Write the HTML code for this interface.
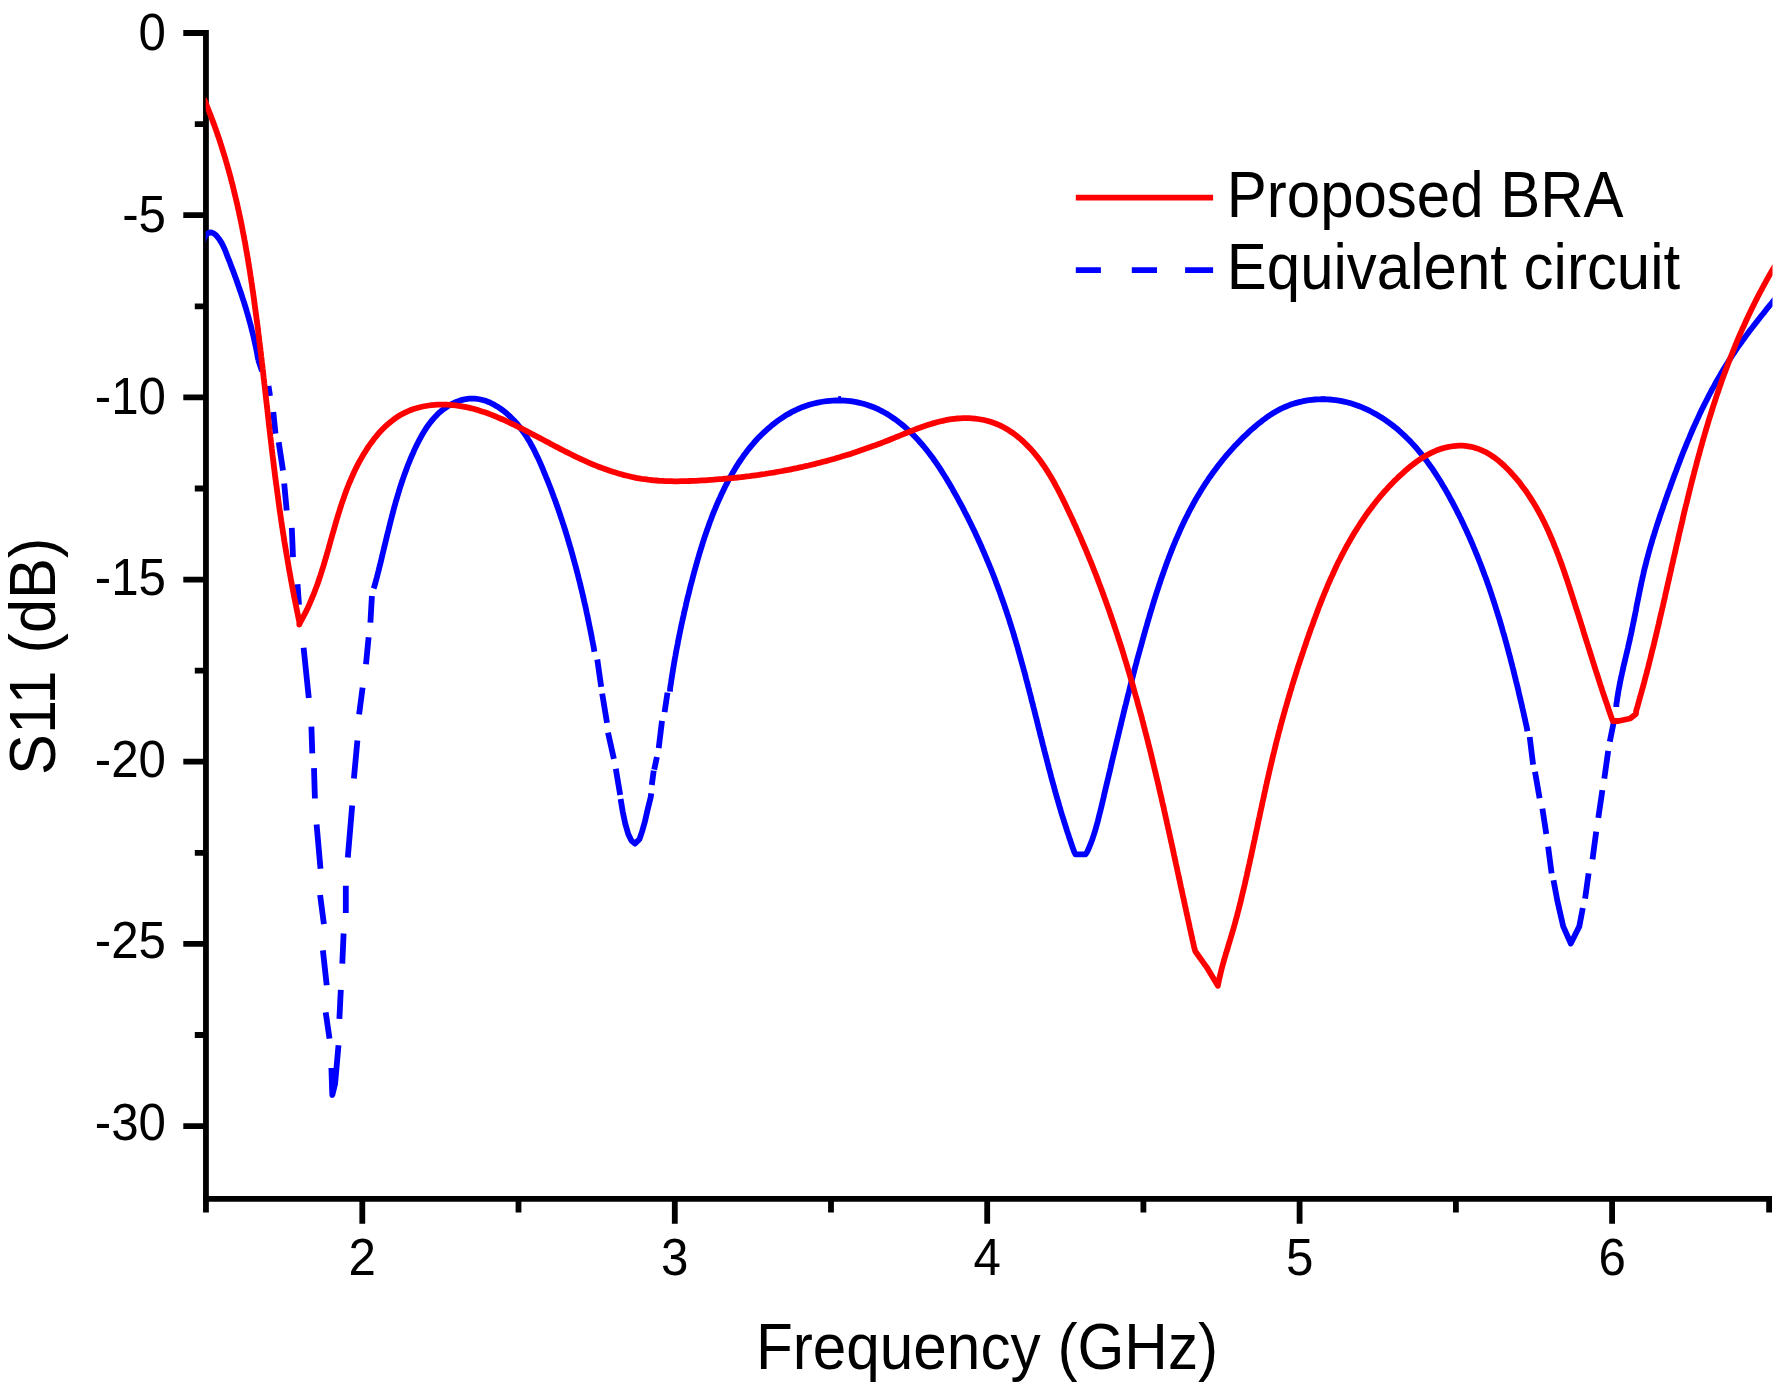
<!DOCTYPE html>
<html><head><meta charset="utf-8"><title>S11 plot</title>
<style>
html,body{margin:0;padding:0;background:#fff;}
svg{display:block;}
text{font-family:"Liberation Sans",Arial,sans-serif;fill:#000;}
</style></head>
<body>
<svg width="1784" height="1385" viewBox="0 0 1784 1385">
<rect width="1784" height="1385" fill="#fff"/>
<path d="M205.95,30.1 V1212.6" stroke="#000" stroke-width="5.8" fill="none"/>
<path d="M203.05,1198.8 H1772" stroke="#000" stroke-width="5.8" fill="none"/>
<path d="M183.3,33.0 H205.95 M183.3,215.2 H205.95 M183.3,397.4 H205.95 M183.3,579.6 H205.95 M183.3,761.7 H205.95 M183.3,943.9 H205.95 M183.3,1126.1 H205.95 M194.8,124.1 H205.95 M194.8,306.3 H205.95 M194.8,488.5 H205.95 M194.8,670.6 H205.95 M194.8,852.8 H205.95 M194.8,1035.0 H205.95 M362.3,1198.8 V1223.7 M674.8,1198.8 V1223.7 M987.2,1198.8 V1223.7 M1299.6,1198.8 V1223.7 M1612.1,1198.8 V1223.7 M518.5,1198.8 V1212.6 M831.0,1198.8 V1212.6 M1143.4,1198.8 V1212.6 M1455.9,1198.8 V1212.6 M1769.1,1198.8 V1212.6" stroke="#000" stroke-width="5.8" fill="none"/>
<clipPath id="pc"><rect x="205.6" y="20" width="1566.9" height="1176"/></clipPath>
<g fill="none" stroke-linejoin="round" stroke-linecap="butt" clip-path="url(#pc)">
<path d="M203.0,242.0 L203.8,238.9 L205.3,235.9 L207.4,233.6 L209.7,232.5 L212.2,232.7 L214.6,234.0 L216.9,236.2 L218.9,238.7 L220.6,241.3 L222.2,244.0 L223.5,246.7 L224.8,249.5 L225.9,252.3 L227.0,255.2 L228.1,258.0 L229.3,260.9 L230.4,263.7 L231.4,266.6 L232.5,269.4 L233.6,272.3 L234.6,275.1 L235.7,278.0 L236.7,280.8 L237.7,283.7 L238.7,286.6 L239.7,289.5 L240.7,292.3 L241.7,295.2 L242.6,298.1 L243.6,301.0 L244.5,303.9 L245.4,306.8 L246.3,309.7 L247.1,312.6 L248.0,315.5 L248.8,318.5 L249.6,321.4 L250.4,324.3 L251.2,327.3 L251.9,330.2 L252.7,333.2 L253.4,336.1 L254.1,339.1 L254.7,342.1 L255.4,345.0 L256.0,348.0 L256.6,351.0 L257.2,354.0 L257.7,357.0 L258.3,360.0 M373.6,588.5 L374.6,585.8 L375.4,582.8 L376.2,579.8 L377.0,576.9 L377.7,573.9 L378.5,571.0 L379.2,568.0 L380.0,565.1 L380.7,562.1 L381.4,559.2 L382.1,556.2 L382.8,553.3 L383.5,550.4 L384.2,547.5 L384.9,544.5 L385.6,541.6 L386.3,538.7 L387.0,535.8 L387.7,532.9 L388.5,529.9 L389.2,527.0 L389.9,524.1 L390.6,521.2 L391.4,518.3 L392.1,515.4 L392.9,512.6 L393.6,509.7 L394.4,506.8 L395.2,503.9 L396.0,501.0 L396.9,498.2 L397.7,495.3 L398.6,492.4 L399.4,489.6 L400.3,486.7 L401.3,483.8 L402.2,481.0 L403.2,478.1 L404.2,475.3 L405.2,472.5 L406.3,469.6 L407.3,466.8 L408.4,464.0 L409.6,461.1 L410.7,458.3 L411.9,455.5 L413.2,452.7 L414.4,449.9 L415.7,447.1 L417.1,444.3 L418.5,441.5 L419.9,438.8 L421.4,436.1 L422.9,433.4 L424.5,430.8 L426.2,428.2 L427.9,425.7 L429.7,423.3 L431.6,420.9 L433.5,418.6 L435.5,416.4 L437.6,414.2 L439.8,412.2 L442.1,410.3 L444.4,408.5 L446.9,406.8 L449.4,405.2 L452.1,403.8 L454.8,402.5 L457.6,401.4 L460.4,400.4 L463.2,399.6 L466.1,399.1 L469.1,398.7 L472.0,398.6 L474.9,398.6 L477.8,399.0 L480.6,399.5 L483.5,400.2 L486.3,401.1 L489.1,402.2 L491.8,403.5 L494.5,404.9 L497.1,406.4 L499.7,408.1 L502.2,409.9 L504.7,411.8 L507.1,413.8 L509.4,415.9 L511.6,418.0 L513.8,420.2 L515.8,422.5 L517.8,424.7 L519.7,427.1 L521.5,429.5 L523.3,431.9 L525.0,434.4 L526.7,436.9 L528.2,439.5 L529.8,442.1 L531.2,444.7 L532.7,447.3 L534.1,450.0 L535.4,452.7 L536.7,455.4 L538.0,458.1 L539.3,460.9 L540.5,463.6 L541.7,466.4 L542.9,469.2 L544.0,472.0 L545.2,474.8 L546.3,477.6 L547.5,480.4 L548.6,483.2 L549.7,486.0 L550.8,488.8 L551.8,491.6 L552.9,494.5 L553.9,497.3 L555.0,500.1 L556.0,502.9 L557.0,505.8 L558.0,508.6 L559.0,511.5 L560.0,514.3 L560.9,517.2 L561.9,520.0 L562.8,522.9 L563.8,525.8 L564.7,528.7 L565.6,531.5 L566.5,534.4 L567.4,537.3 L568.2,540.2 L569.1,543.1 L569.9,545.9 L570.8,548.8 L571.6,551.7 L572.4,554.6 L573.2,557.5 L574.0,560.4 L574.8,563.4 L575.6,566.3 L576.4,569.2 L577.1,572.1 L577.9,575.0 L578.6,577.9 L579.4,580.9 L580.1,583.8 L580.8,586.7 L581.5,589.7 L582.2,592.6 L582.9,595.5 L583.6,598.5 L584.2,601.4 L584.9,604.4 L585.6,607.3 L586.2,610.3 L586.8,613.2 L587.5,616.2 L588.1,619.1 L588.7,622.1 L589.3,625.0 L589.9,628.0 L590.5,630.9 L591.1,633.9 L591.7,636.9 L592.2,639.8 L592.8,642.8 L593.4,645.8 L593.9,648.7 L594.4,651.7 M620.6,799.0 L622.7,811.6 L625.3,823.9 L628.3,834.3 L631.5,840.8 L635.1,843.6 L639.6,838.9 L642.2,831.1 L644.8,822.0 L647.8,809.0 L650.7,797.3 L651.2,793.4 M670.0,691.7 L670.1,688.7 L670.5,685.7 L671.0,682.7 L671.4,679.8 L671.9,676.8 L672.4,673.8 L672.8,670.9 L673.3,667.9 L673.8,665.0 L674.3,662.0 L674.8,659.0 L675.4,656.1 L675.9,653.1 L676.4,650.2 L677.0,647.2 L677.6,644.3 L678.1,641.3 L678.7,638.4 L679.3,635.4 L679.9,632.5 L680.5,629.5 L681.1,626.6 L681.7,623.7 L682.4,620.7 L683.0,617.8 L683.7,614.8 L684.3,611.9 L685.0,609.0 L685.7,606.1 L686.3,603.1 L687.0,600.2 L687.7,597.3 L688.5,594.4 L689.2,591.4 L689.9,588.5 L690.6,585.6 L691.4,582.7 L692.2,579.8 L692.9,576.9 L693.7,574.0 L694.5,571.1 L695.3,568.2 L696.1,565.3 L696.9,562.4 L697.7,559.5 L698.6,556.6 L699.4,553.7 L700.3,550.8 L701.2,547.9 L702.1,545.1 L703.0,542.2 L703.9,539.4 L704.8,536.5 L705.8,533.7 L706.8,530.8 L707.8,528.0 L708.8,525.2 L709.8,522.3 L710.9,519.5 L711.9,516.7 L713.0,513.9 L714.1,511.1 L715.3,508.4 L716.4,505.6 L717.6,502.8 L718.8,500.1 L720.1,497.4 L721.3,494.6 L722.6,491.9 L723.9,489.2 L725.2,486.5 L726.6,483.8 L728.0,481.2 L729.4,478.5 L730.9,475.9 L732.4,473.3 L733.9,470.7 L735.4,468.1 L737.0,465.6 L738.6,463.0 L740.3,460.5 L742.0,458.1 L743.7,455.6 L745.5,453.2 L747.3,450.8 L749.2,448.4 L751.1,446.1 L753.0,443.8 L755.0,441.5 L757.0,439.3 L759.1,437.1 L761.2,435.0 L763.4,432.9 L765.6,430.8 L767.8,428.8 L770.1,426.9 L772.4,424.9 L774.8,423.1 L777.2,421.2 L779.6,419.5 L782.1,417.8 L784.7,416.1 L787.2,414.6 L789.9,413.1 L792.5,411.6 L795.2,410.3 L797.9,409.0 L800.7,407.8 L803.5,406.8 L806.4,405.8 L809.2,404.8 L812.1,404.0 L815.0,403.3 L817.9,402.6 L820.9,402.0 L823.8,401.5 L826.8,401.1 L829.8,400.8 L832.8,400.6 L835.8,400.5 L838.7,400.5 L841.7,400.5 L844.7,400.7 L847.7,400.9 L850.6,401.2 L853.6,401.7 L856.5,402.2 L859.5,402.8 L862.3,403.5 L865.2,404.3 L868.1,405.2 L870.9,406.2 L873.7,407.3 L876.4,408.4 L879.1,409.7 L881.8,411.1 L884.5,412.5 L887.1,414.0 L889.7,415.6 L892.2,417.3 L894.7,419.0 L897.1,420.8 L899.6,422.7 L901.9,424.6 L904.3,426.6 L906.6,428.6 L908.8,430.6 L911.0,432.7 L913.2,434.9 L915.3,437.0 L917.4,439.2 L919.4,441.5 L921.4,443.7 L923.4,446.0 L925.3,448.3 L927.2,450.7 L929.0,453.0 L930.8,455.4 L932.6,457.8 L934.3,460.2 L936.0,462.7 L937.7,465.2 L939.4,467.6 L941.0,470.1 L942.6,472.7 L944.2,475.2 L945.8,477.7 L947.3,480.3 L948.9,482.9 L950.4,485.5 L951.9,488.0 L953.3,490.6 L954.8,493.3 L956.3,495.9 L957.7,498.5 L959.1,501.1 L960.6,503.8 L962.0,506.4 L963.4,509.1 L964.7,511.8 L966.1,514.4 L967.5,517.1 L968.8,519.8 L970.2,522.5 L971.5,525.2 L972.8,527.9 L974.1,530.6 L975.4,533.3 L976.6,536.1 L977.9,538.8 L979.1,541.5 L980.4,544.3 L981.6,547.0 L982.8,549.8 L984.0,552.5 L985.2,555.3 L986.4,558.1 L987.5,560.9 L988.7,563.6 L989.8,566.4 L991.0,569.2 L992.1,572.0 L993.2,574.8 L994.3,577.6 L995.4,580.4 L996.4,583.3 L997.5,586.1 L998.5,588.9 L999.6,591.7 L1000.6,594.6 L1001.6,597.4 L1002.6,600.2 L1003.6,603.1 L1004.6,605.9 L1005.5,608.8 L1006.5,611.6 L1007.4,614.5 L1008.4,617.3 L1009.3,620.2 L1010.2,623.1 L1011.1,625.9 L1012.0,628.8 L1012.9,631.7 L1013.8,634.6 L1014.6,637.4 L1015.5,640.3 L1016.3,643.2 L1017.2,646.1 L1018.0,649.0 L1018.8,651.9 L1019.6,654.8 L1020.4,657.6 L1021.2,660.5 L1022.0,663.4 L1022.8,666.3 L1023.6,669.2 L1024.4,672.1 L1025.2,675.0 L1025.9,677.9 L1026.7,680.9 L1027.5,683.8 L1028.2,686.7 L1029.0,689.6 L1029.7,692.5 L1030.5,695.4 L1031.2,698.3 L1031.9,701.2 L1032.7,704.1 L1033.4,707.0 L1034.2,710.0 L1034.9,712.9 L1035.6,715.8 L1036.4,718.7 L1037.1,721.6 L1037.8,724.5 L1038.5,727.4 L1039.3,730.4 L1040.0,733.3 L1040.7,736.2 L1041.5,739.1 L1042.2,742.0 L1042.9,744.9 L1043.7,747.8 L1044.4,750.7 L1045.2,753.7 L1045.9,756.6 L1046.7,759.5 L1047.4,762.4 L1048.2,765.3 L1048.9,768.2 L1049.7,771.1 L1050.5,774.0 L1051.2,776.9 L1052.0,779.8 L1052.8,782.7 L1053.6,785.6 L1054.4,788.5 L1055.2,791.4 L1056.0,794.3 L1056.8,797.2 L1057.7,800.1 L1058.5,802.9 L1059.3,805.8 L1060.2,808.7 L1061.0,811.6 L1061.9,814.5 L1062.8,817.3 L1063.7,820.2 L1064.6,823.1 L1065.5,825.9 L1066.4,828.8 L1067.3,831.7 L1068.3,834.5 L1069.2,837.4 L1070.2,840.2 L1071.1,843.1 L1072.1,845.9 L1073.1,848.8 L1074.1,851.6 L1075.5,854.3 L1085.5,854.3 L1087.2,851.8 L1088.5,849.1 L1089.6,846.3 L1090.7,843.6 L1091.8,840.8 L1092.8,838.0 L1093.7,835.1 L1094.6,832.3 L1095.5,829.4 L1096.3,826.5 L1097.1,823.7 L1097.9,820.8 L1098.6,817.9 L1099.3,814.9 L1100.1,812.0 L1100.8,809.1 L1101.5,806.2 L1102.2,803.3 L1102.9,800.3 L1103.6,797.4 L1104.2,794.5 L1104.9,791.6 L1105.6,788.6 L1106.3,785.7 L1107.0,782.8 L1107.7,779.9 L1108.4,776.9 L1109.1,774.0 L1109.8,771.1 L1110.5,768.1 L1111.1,765.2 L1111.8,762.3 L1112.5,759.4 L1113.2,756.4 L1113.9,753.5 L1114.6,750.6 L1115.3,747.7 L1116.0,744.7 L1116.7,741.8 L1117.4,738.9 L1118.1,736.0 L1118.8,733.1 L1119.5,730.1 L1120.2,727.2 L1120.9,724.3 L1121.6,721.4 L1122.3,718.5 L1123.0,715.6 L1123.7,712.6 L1124.4,709.7 L1125.1,706.8 L1125.9,703.9 L1126.6,701.0 L1127.3,698.1 L1128.0,695.2 L1128.8,692.3 L1129.5,689.4 L1130.2,686.5 L1131.0,683.6 L1131.7,680.6 L1132.5,677.7 L1133.2,674.8 L1134.0,671.9 L1134.7,669.0 L1135.5,666.1 L1136.3,663.2 L1137.0,660.3 L1137.8,657.4 L1138.6,654.5 L1139.4,651.7 L1140.2,648.8 L1141.0,645.9 L1141.8,643.0 L1142.6,640.1 L1143.4,637.2 L1144.2,634.3 L1145.0,631.4 L1145.8,628.5 L1146.7,625.6 L1147.5,622.7 L1148.3,619.9 L1149.2,617.0 L1150.0,614.1 L1150.9,611.2 L1151.8,608.3 L1152.6,605.5 L1153.5,602.6 L1154.4,599.7 L1155.3,596.8 L1156.2,594.0 L1157.1,591.1 L1158.1,588.2 L1159.0,585.4 L1160.0,582.5 L1160.9,579.7 L1161.9,576.8 L1162.9,574.0 L1163.9,571.1 L1164.9,568.3 L1165.9,565.5 L1166.9,562.6 L1168.0,559.8 L1169.0,557.0 L1170.1,554.2 L1171.2,551.4 L1172.3,548.6 L1173.4,545.8 L1174.6,543.1 L1175.7,540.3 L1176.9,537.6 L1178.1,534.8 L1179.3,532.1 L1180.5,529.3 L1181.8,526.6 L1183.0,523.9 L1184.3,521.2 L1185.6,518.5 L1187.0,515.9 L1188.3,513.2 L1189.7,510.5 L1191.1,507.9 L1192.5,505.3 L1193.9,502.6 L1195.4,500.0 L1196.9,497.4 L1198.4,494.9 L1200.0,492.3 L1201.5,489.7 L1203.1,487.2 L1204.7,484.7 L1206.4,482.2 L1208.0,479.7 L1209.7,477.2 L1211.5,474.7 L1213.2,472.3 L1215.0,469.9 L1216.8,467.5 L1218.6,465.1 L1220.5,462.7 L1222.4,460.3 L1224.3,458.0 L1226.2,455.7 L1228.2,453.4 L1230.2,451.1 L1232.2,448.9 L1234.2,446.6 L1236.3,444.4 L1238.4,442.2 L1240.5,440.1 L1242.6,437.9 L1244.8,435.8 L1247.0,433.8 L1249.2,431.7 L1251.4,429.7 L1253.7,427.7 L1256.0,425.7 L1258.3,423.8 L1260.7,421.9 L1263.1,420.0 L1265.5,418.3 L1267.9,416.5 L1270.4,414.9 L1272.9,413.3 L1275.5,411.8 L1278.1,410.3 L1280.7,408.9 L1283.4,407.7 L1286.1,406.5 L1288.8,405.4 L1291.6,404.3 L1294.4,403.4 L1297.3,402.6 L1300.1,401.9 L1303.1,401.2 L1306.0,400.7 L1308.9,400.2 L1311.9,399.8 L1314.9,399.5 L1317.9,399.4 L1320.9,399.3 L1323.9,399.3 L1326.9,399.3 L1329.9,399.5 L1332.9,399.8 L1335.9,400.2 L1338.9,400.6 L1341.9,401.2 L1344.9,401.8 L1347.8,402.5 L1350.7,403.3 L1353.6,404.2 L1356.5,405.2 L1359.4,406.3 L1362.2,407.4 L1365.0,408.6 L1367.8,409.9 L1370.5,411.3 L1373.2,412.7 L1375.8,414.1 L1378.5,415.7 L1381.0,417.2 L1383.6,418.9 L1386.1,420.6 L1388.5,422.3 L1390.9,424.1 L1393.3,425.9 L1395.6,427.7 L1397.9,429.6 L1400.1,431.6 L1402.3,433.6 L1404.5,435.6 L1406.6,437.7 L1408.7,439.8 L1410.8,441.9 L1412.8,444.1 L1414.8,446.3 L1416.8,448.5 L1418.7,450.8 L1420.6,453.1 L1422.5,455.4 L1424.3,457.8 L1426.1,460.1 L1427.9,462.6 L1429.6,465.0 L1431.4,467.4 L1433.1,469.9 L1434.7,472.4 L1436.4,474.9 L1438.0,477.5 L1439.6,480.0 L1441.2,482.6 L1442.7,485.2 L1444.3,487.8 L1445.8,490.4 L1447.3,493.0 L1448.8,495.7 L1450.2,498.3 L1451.7,501.0 L1453.1,503.6 L1454.5,506.3 L1455.9,509.0 L1457.2,511.6 L1458.6,514.3 L1459.9,517.0 L1461.3,519.7 L1462.6,522.4 L1463.8,525.1 L1465.1,527.9 L1466.4,530.6 L1467.6,533.3 L1468.9,536.1 L1470.1,538.8 L1471.3,541.6 L1472.5,544.3 L1473.6,547.1 L1474.8,549.8 L1475.9,552.6 L1477.1,555.4 L1478.2,558.2 L1479.3,561.0 L1480.4,563.8 L1481.5,566.6 L1482.5,569.4 L1483.6,572.2 L1484.6,575.0 L1485.7,577.8 L1486.7,580.6 L1487.7,583.4 L1488.7,586.3 L1489.7,589.1 L1490.6,591.9 L1491.6,594.8 L1492.5,597.6 L1493.5,600.5 L1494.4,603.3 L1495.3,606.2 L1496.2,609.1 L1497.1,611.9 L1498.0,614.8 L1498.9,617.7 L1499.8,620.5 L1500.6,623.4 L1501.5,626.3 L1502.3,629.2 L1503.1,632.1 L1504.0,634.9 L1504.8,637.8 L1505.6,640.7 L1506.4,643.6 L1507.2,646.5 L1508.0,649.4 L1508.7,652.3 L1509.5,655.2 L1510.3,658.1 L1511.0,661.0 L1511.8,663.9 L1512.5,666.9 L1513.3,669.8 L1514.0,672.7 L1514.7,675.6 L1515.4,678.5 L1516.1,681.4 L1516.9,684.4 L1517.6,687.3 L1518.3,690.2 L1518.9,693.1 L1519.6,696.0 L1520.3,699.0 L1521.0,701.9 L1521.7,704.8 L1522.3,707.7 L1523.0,710.7 L1523.7,713.6 L1524.3,716.5 L1525.0,719.4 L1525.6,722.4 L1526.3,725.3 L1526.9,728.2 L1527.4,731.2 M1553.5,880.2 L1557.4,901.0 L1563.2,926.4 L1570.8,943.5 L1579.3,926.4 L1582.8,908.0 M1616.3,707.0 L1616.4,704.0 L1616.9,701.0 L1617.3,698.0 L1617.8,695.0 L1618.3,692.1 L1618.8,689.1 L1619.4,686.2 L1619.9,683.2 L1620.5,680.3 L1621.1,677.3 L1621.8,674.4 L1622.4,671.5 L1623.1,668.5 L1623.7,665.6 L1624.4,662.7 L1625.1,659.8 L1625.8,656.8 L1626.5,653.9 L1627.2,651.0 L1627.9,648.1 L1628.5,645.1 L1629.2,642.2 L1629.9,639.3 L1630.5,636.3 L1631.2,633.4 L1631.8,630.4 L1632.4,627.5 L1633.0,624.5 L1633.6,621.6 L1634.2,618.6 L1634.8,615.7 L1635.4,612.7 L1636.0,609.8 L1636.5,606.8 L1637.1,603.8 L1637.7,600.9 L1638.3,597.9 L1638.9,595.0 L1639.5,592.0 L1640.1,589.1 L1640.7,586.1 L1641.3,583.2 L1642.0,580.2 L1642.6,577.3 L1643.3,574.4 L1643.9,571.4 L1644.6,568.5 L1645.4,565.6 L1646.1,562.7 L1646.8,559.8 L1647.6,556.9 L1648.4,554.0 L1649.2,551.1 L1650.0,548.2 L1650.8,545.3 L1651.7,542.4 L1652.5,539.5 L1653.4,536.6 L1654.3,533.8 L1655.2,530.9 L1656.1,528.0 L1657.0,525.2 L1658.0,522.3 L1658.9,519.5 L1659.8,516.6 L1660.8,513.8 L1661.8,510.9 L1662.8,508.1 L1663.7,505.2 L1664.7,502.4 L1665.7,499.5 L1666.7,496.7 L1667.7,493.8 L1668.7,491.0 L1669.8,488.2 L1670.8,485.3 L1671.8,482.5 L1672.8,479.7 L1673.9,476.8 L1674.9,474.0 L1676.0,471.2 L1677.0,468.4 L1678.1,465.5 L1679.2,462.7 L1680.2,459.9 L1681.3,457.1 L1682.4,454.3 L1683.5,451.5 L1684.7,448.7 L1685.8,445.9 L1686.9,443.1 L1688.1,440.3 L1689.3,437.6 L1690.4,434.8 L1691.6,432.0 L1692.8,429.3 L1694.0,426.5 L1695.3,423.8 L1696.5,421.0 L1697.8,418.3 L1699.0,415.6 L1700.3,412.8 L1701.6,410.1 L1702.9,407.4 L1704.3,404.7 L1705.6,402.0 L1707.0,399.4 L1708.3,396.7 L1709.7,394.0 L1711.1,391.4 L1712.5,388.7 L1714.0,386.1 L1715.4,383.4 L1716.9,380.8 L1718.4,378.2 L1719.9,375.6 L1721.4,373.0 L1722.9,370.4 L1724.5,367.9 L1726.0,365.3 L1727.6,362.8 L1729.2,360.2 L1730.9,357.7 L1732.5,355.2 L1734.2,352.7 L1735.8,350.2 L1737.5,347.7 L1739.2,345.2 L1741.0,342.8 L1742.7,340.3 L1744.5,337.9 L1746.3,335.4 L1748.1,333.0 L1749.9,330.6 L1751.7,328.2 L1753.6,325.8 L1755.4,323.4 L1757.3,321.1 L1759.1,318.7 L1761.0,316.3 L1762.9,314.0 L1764.8,311.6 L1766.6,309.2 L1768.5,306.9 L1770.4,304.6 L1772.3,302.2 L1774.2,299.9 L1776.0,297.5 M258.3,360.0 L262.0,371.0 M268.5,386.0 L270.0,396.0 M273.3,412.0 L275.5,433.6 M278.7,442.3 L283.0,470.5 M284.2,483.5 L286.7,510.5 M291.8,527.9 L293.0,557.1 M297.5,584.2 L299.0,604.8 M303.6,647.7 L308.8,698.0 M311.4,726.6 L312.3,753.4 M314.0,768.2 L314.9,798.5 M316.6,824.5 L320.5,868.8 M320.1,895.0 L323.9,924.2 M322.9,950.4 L326.7,985.2 M325.7,1012.4 L329.5,1038.7 M331.4,1067.8 L332.3,1095.0 L335.1,1083.7 L338.5,1045.2 M339.4,1018.9 L340.8,989.9 M342.3,963.6 L343.6,933.5 M345.8,912.9 L345.8,885.7 M347.8,857.4 L352.2,805.4 M353.9,778.6 L357.4,740.4 M359.1,714.4 L362.6,687.6 M366.0,664.2 L368.6,637.3 M370.4,622.6 L371.9,596.0 M597.3,659.5 L601.2,686.8 M602.2,693.6 L607.0,722.9 M608.0,732.6 L613.9,758.9 M615.8,768.7 L620.2,795.0 M653.7,770.6 L651.8,785.0 M656.9,757.0 L654.2,769.7 M658.7,748.2 L662.0,720.9 M664.6,712.1 L667.5,692.6 M1529.7,737.0 L1533.1,764.7 M1535.0,771.7 L1539.6,798.2 M1542.4,808.6 L1546.3,834.0 M1548.1,846.7 L1551.6,873.3 M1585.1,898.7 L1588.6,873.3 M1592.5,859.4 L1596.2,831.7 M1598.3,817.9 L1602.4,790.1 M1604.3,778.6 L1608.2,750.9 M1609.8,741.6 L1614.0,720.8" stroke="#00f" stroke-width="5.8"/>
<path d="M204.0,98.6 L205.0,101.4 L206.2,104.2 L207.3,107.0 L208.4,109.8 L209.5,112.6 L210.6,115.4 L211.7,118.2 L212.8,121.1 L213.8,123.9 L214.9,126.7 L215.9,129.6 L216.9,132.4 L217.8,135.3 L218.8,138.1 L219.8,141.0 L220.7,143.8 L221.6,146.7 L222.5,149.6 L223.4,152.4 L224.3,155.3 L225.2,158.2 L226.0,161.1 L226.9,164.0 L227.7,166.9 L228.5,169.8 L229.3,172.7 L230.1,175.6 L230.9,178.5 L231.6,181.4 L232.4,184.3 L233.1,187.2 L233.8,190.1 L234.5,193.0 L235.2,195.9 L235.9,198.9 L236.6,201.8 L237.3,204.7 L237.9,207.7 L238.6,210.6 L239.2,213.5 L239.8,216.5 L240.5,219.4 L241.1,222.4 L241.7,225.3 L242.3,228.3 L242.8,231.2 L243.4,234.2 L244.0,237.1 L244.5,240.1 L245.1,243.0 L245.6,246.0 L246.1,249.0 L246.6,251.9 L247.2,254.9 L247.7,257.9 L248.2,260.8 L248.6,263.8 L249.1,266.8 L249.6,269.7 L250.1,272.7 L250.5,275.7 L251.0,278.7 L251.4,281.7 L251.9,284.6 L252.3,287.6 L252.7,290.6 L253.2,293.6 L253.6,296.6 L254.0,299.5 L254.4,302.5 L254.8,305.5 L255.2,308.5 L255.6,311.5 L256.0,314.5 L256.4,317.5 L256.8,320.5 L257.2,323.4 L257.6,326.4 L258.0,329.4 L258.3,332.4 L258.7,335.4 L259.1,338.4 L259.4,341.4 L259.8,344.4 L260.2,347.4 L260.5,350.4 L260.9,353.3 L261.2,356.3 L261.6,359.3 L261.9,362.3 L262.3,365.3 L262.6,368.3 L263.0,371.3 L263.3,374.3 L263.6,377.3 L264.0,380.3 L264.3,383.3 L264.7,386.3 L265.0,389.3 L265.3,392.2 L265.7,395.2 L266.0,398.2 L266.3,401.2 L266.7,404.2 L267.0,407.2 L267.4,410.2 L267.7,413.2 L268.0,416.2 L268.4,419.2 L268.7,422.2 L269.0,425.2 L269.4,428.2 L269.7,431.1 L270.1,434.1 L270.4,437.1 L270.8,440.1 L271.1,443.1 L271.5,446.1 L271.8,449.1 L272.2,452.1 L272.5,455.1 L272.9,458.1 L273.3,461.0 L273.6,464.0 L274.0,467.0 L274.4,470.0 L274.7,473.0 L275.1,476.0 L275.5,479.0 L275.9,481.9 L276.3,484.9 L276.7,487.9 L277.1,490.9 L277.5,493.9 L277.9,496.9 L278.3,499.8 L278.7,502.8 L279.1,505.8 L279.5,508.8 L279.9,511.8 L280.4,514.7 L280.8,517.7 L281.2,520.7 L281.7,523.7 L282.1,526.6 L282.6,529.6 L283.0,532.6 L283.5,535.6 L284.0,538.5 L284.4,541.5 L284.9,544.5 L285.4,547.4 L285.9,550.4 L286.4,553.4 L286.9,556.3 L287.4,559.3 L287.9,562.3 L288.4,565.2 L288.9,568.2 L289.4,571.2 L290.0,574.1 L290.5,577.1 L291.0,580.1 L291.6,583.0 L292.1,586.0 L292.7,588.9 L293.3,591.9 L293.8,594.9 L294.4,597.8 L295.0,600.8 L295.6,603.7 L296.2,606.7 L296.8,609.6 L297.4,612.6 L298.0,615.6 L298.6,618.5 L299.3,621.5 L299.3,624.5 L300.5,621.8 L302.0,619.2 L303.4,616.5 L304.8,613.8 L306.2,611.1 L307.5,608.4 L308.8,605.6 L310.0,602.9 L311.2,600.1 L312.3,597.4 L313.5,594.6 L314.6,591.8 L315.6,589.0 L316.7,586.2 L317.7,583.4 L318.7,580.5 L319.6,577.7 L320.6,574.9 L321.5,572.0 L322.4,569.1 L323.3,566.3 L324.2,563.4 L325.0,560.5 L325.9,557.7 L326.7,554.8 L327.5,551.9 L328.4,549.0 L329.2,546.1 L330.0,543.2 L330.8,540.3 L331.6,537.5 L332.4,534.6 L333.3,531.7 L334.1,528.8 L334.9,525.9 L335.7,523.0 L336.6,520.2 L337.4,517.3 L338.3,514.4 L339.2,511.6 L340.1,508.7 L341.0,505.9 L341.9,503.0 L342.9,500.2 L343.9,497.4 L344.9,494.6 L345.9,491.8 L346.9,489.0 L348.0,486.2 L349.1,483.4 L350.3,480.7 L351.5,477.9 L352.7,475.2 L353.9,472.5 L355.2,469.7 L356.5,467.1 L357.9,464.4 L359.3,461.7 L360.8,459.1 L362.3,456.5 L363.8,453.8 L365.5,451.3 L367.1,448.7 L368.8,446.1 L370.6,443.6 L372.4,441.2 L374.2,438.7 L376.2,436.4 L378.1,434.0 L380.1,431.8 L382.2,429.6 L384.3,427.4 L386.5,425.4 L388.8,423.4 L391.1,421.5 L393.4,419.7 L395.8,417.9 L398.3,416.3 L400.8,414.8 L403.4,413.4 L406.1,412.1 L408.8,410.9 L411.5,409.8 L414.3,408.8 L417.2,408.0 L420.0,407.2 L422.9,406.5 L425.9,406.0 L428.8,405.5 L431.8,405.1 L434.8,404.9 L437.8,404.7 L440.8,404.6 L443.8,404.6 L446.8,404.7 L449.8,404.8 L452.8,405.1 L455.8,405.4 L458.7,405.8 L461.7,406.3 L464.6,406.8 L467.5,407.4 L470.4,408.1 L473.3,408.8 L476.2,409.6 L479.1,410.5 L481.9,411.4 L484.8,412.3 L487.6,413.3 L490.4,414.4 L493.3,415.5 L496.1,416.6 L498.8,417.8 L501.6,419.0 L504.4,420.2 L507.1,421.5 L509.9,422.8 L512.6,424.1 L515.4,425.4 L518.1,426.8 L520.8,428.1 L523.5,429.5 L526.2,430.9 L528.9,432.3 L531.5,433.7 L534.2,435.1 L536.9,436.5 L539.5,437.9 L542.2,439.3 L544.8,440.7 L547.5,442.1 L550.1,443.6 L552.8,445.0 L555.4,446.4 L558.1,447.7 L560.7,449.1 L563.4,450.5 L566.1,451.9 L568.7,453.2 L571.4,454.5 L574.1,455.9 L576.7,457.2 L579.4,458.4 L582.1,459.7 L584.9,460.9 L587.6,462.1 L590.3,463.3 L593.0,464.5 L595.8,465.6 L598.6,466.7 L601.4,467.8 L604.2,468.8 L607.0,469.8 L609.8,470.8 L612.7,471.7 L615.5,472.6 L618.4,473.5 L621.3,474.3 L624.2,475.1 L627.1,475.8 L630.0,476.5 L633.0,477.2 L635.9,477.8 L638.9,478.3 L641.8,478.8 L644.8,479.2 L647.8,479.6 L650.7,480.0 L653.7,480.3 L656.7,480.5 L659.7,480.8 L662.7,480.9 L665.7,481.1 L668.7,481.2 L671.6,481.2 L674.6,481.3 L677.6,481.3 L680.6,481.2 L683.7,481.2 L686.7,481.1 L689.7,481.0 L692.7,480.9 L695.7,480.8 L698.7,480.6 L701.7,480.4 L704.7,480.3 L707.7,480.1 L710.7,479.9 L713.7,479.7 L716.7,479.4 L719.7,479.2 L722.7,479.0 L725.7,478.7 L728.7,478.4 L731.7,478.1 L734.7,477.8 L737.7,477.5 L740.7,477.2 L743.7,476.8 L746.7,476.4 L749.7,476.1 L752.7,475.7 L755.7,475.3 L758.7,474.9 L761.6,474.4 L764.6,474.0 L767.6,473.5 L770.5,473.0 L773.5,472.6 L776.4,472.0 L779.4,471.5 L782.3,471.0 L785.3,470.4 L788.2,469.9 L791.1,469.3 L794.1,468.7 L797.0,468.1 L799.9,467.4 L802.8,466.8 L805.7,466.1 L808.6,465.5 L811.5,464.8 L814.4,464.1 L817.3,463.3 L820.2,462.6 L823.1,461.8 L826.0,461.1 L828.9,460.3 L831.7,459.5 L834.6,458.7 L837.5,457.8 L840.3,457.0 L843.2,456.1 L846.0,455.2 L848.9,454.4 L851.8,453.4 L854.6,452.5 L857.5,451.6 L860.3,450.6 L863.1,449.6 L866.0,448.6 L868.8,447.6 L871.7,446.6 L874.5,445.6 L877.3,444.5 L880.2,443.5 L883.0,442.4 L885.8,441.3 L888.6,440.2 L891.5,439.0 L894.3,437.9 L897.1,436.7 L899.9,435.6 L902.8,434.4 L905.6,433.3 L908.4,432.1 L911.2,431.0 L914.1,429.9 L916.9,428.8 L919.7,427.8 L922.6,426.8 L925.4,425.8 L928.3,424.8 L931.1,423.9 L934.0,423.1 L936.9,422.3 L939.7,421.5 L942.6,420.9 L945.5,420.2 L948.4,419.7 L951.3,419.2 L954.2,418.8 L957.2,418.5 L960.1,418.3 L963.1,418.2 L966.0,418.1 L969.0,418.2 L972.0,418.3 L975.0,418.6 L978.0,419.0 L980.9,419.5 L983.9,420.0 L986.8,420.7 L989.7,421.5 L992.6,422.5 L995.4,423.5 L998.2,424.6 L1000.9,425.9 L1003.6,427.3 L1006.2,428.8 L1008.8,430.3 L1011.3,432.0 L1013.8,433.7 L1016.2,435.5 L1018.6,437.4 L1020.9,439.4 L1023.1,441.4 L1025.3,443.5 L1027.4,445.6 L1029.5,447.7 L1031.5,449.9 L1033.5,452.2 L1035.4,454.5 L1037.3,456.8 L1039.1,459.1 L1040.9,461.5 L1042.6,464.0 L1044.3,466.4 L1045.9,468.9 L1047.5,471.4 L1049.1,474.0 L1050.7,476.5 L1052.2,479.1 L1053.7,481.7 L1055.1,484.4 L1056.5,487.0 L1058.0,489.7 L1059.3,492.3 L1060.7,495.0 L1062.1,497.7 L1063.4,500.4 L1064.7,503.1 L1066.0,505.8 L1067.3,508.6 L1068.6,511.3 L1069.9,514.0 L1071.2,516.7 L1072.5,519.5 L1073.7,522.2 L1075.0,524.9 L1076.2,527.7 L1077.4,530.4 L1078.6,533.2 L1079.9,535.9 L1081.1,538.7 L1082.2,541.5 L1083.4,544.2 L1084.6,547.0 L1085.8,549.7 L1086.9,552.5 L1088.1,555.3 L1089.2,558.1 L1090.4,560.9 L1091.5,563.6 L1092.6,566.4 L1093.7,569.2 L1094.8,572.0 L1095.9,574.8 L1097.0,577.6 L1098.1,580.4 L1099.1,583.2 L1100.2,586.0 L1101.2,588.8 L1102.3,591.6 L1103.3,594.4 L1104.3,597.3 L1105.4,600.1 L1106.4,602.9 L1107.4,605.7 L1108.4,608.5 L1109.4,611.4 L1110.4,614.2 L1111.3,617.0 L1112.3,619.9 L1113.3,622.7 L1114.2,625.6 L1115.2,628.4 L1116.1,631.2 L1117.1,634.1 L1118.0,636.9 L1118.9,639.8 L1119.9,642.7 L1120.8,645.5 L1121.7,648.4 L1122.6,651.2 L1123.5,654.1 L1124.3,657.0 L1125.2,659.8 L1126.1,662.7 L1127.0,665.6 L1127.8,668.4 L1128.7,671.3 L1129.5,674.2 L1130.4,677.1 L1131.2,679.9 L1132.1,682.8 L1132.9,685.7 L1133.7,688.6 L1134.5,691.5 L1135.3,694.4 L1136.1,697.2 L1137.0,700.1 L1137.7,703.0 L1138.5,705.9 L1139.3,708.8 L1140.1,711.7 L1140.9,714.6 L1141.7,717.5 L1142.4,720.4 L1143.2,723.3 L1143.9,726.2 L1144.7,729.1 L1145.4,732.0 L1146.2,734.9 L1146.9,737.8 L1147.7,740.8 L1148.4,743.7 L1149.1,746.6 L1149.9,749.5 L1150.6,752.4 L1151.3,755.3 L1152.0,758.2 L1152.7,761.1 L1153.4,764.1 L1154.1,767.0 L1154.8,769.9 L1155.5,772.8 L1156.2,775.7 L1156.9,778.7 L1157.6,781.6 L1158.3,784.5 L1159.0,787.4 L1159.6,790.4 L1160.3,793.3 L1161.0,796.2 L1161.7,799.1 L1162.3,802.1 L1163.0,805.0 L1163.7,807.9 L1164.3,810.8 L1165.0,813.8 L1165.6,816.7 L1166.3,819.6 L1166.9,822.6 L1167.6,825.5 L1168.2,828.4 L1168.9,831.4 L1169.5,834.3 L1170.2,837.2 L1170.8,840.2 L1171.5,843.1 L1172.1,846.0 L1172.8,849.0 L1173.4,851.9 L1174.0,854.8 L1174.7,857.8 L1175.3,860.7 L1175.9,863.6 L1176.6,866.6 L1177.2,869.5 L1177.8,872.4 L1178.5,875.4 L1179.1,878.3 L1179.8,881.2 L1180.4,884.2 L1181.0,887.1 L1181.7,890.0 L1182.3,893.0 L1182.9,895.9 L1183.6,898.8 L1184.2,901.8 L1184.8,904.7 L1185.5,907.6 L1186.1,910.5 L1186.7,913.5 L1187.4,916.4 L1188.0,919.3 L1188.7,922.3 L1189.3,925.2 L1189.9,928.1 L1190.6,931.1 L1191.2,934.0 L1191.9,936.9 L1192.5,939.8 L1193.2,942.8 L1193.8,945.7 L1194.5,948.6 L1195.4,951.5 L1206.6,967.1 L1217.9,985.8 L1218.4,982.8 L1219.0,979.9 L1219.7,977.0 L1220.4,974.0 L1221.1,971.1 L1221.8,968.2 L1222.6,965.3 L1223.4,962.4 L1224.2,959.5 L1225.1,956.6 L1225.9,953.7 L1226.8,950.8 L1227.7,948.0 L1228.5,945.1 L1229.4,942.2 L1230.3,939.3 L1231.1,936.5 L1232.0,933.6 L1232.9,930.7 L1233.7,927.8 L1234.5,924.9 L1235.3,922.0 L1236.1,919.1 L1236.9,916.2 L1237.6,913.3 L1238.4,910.4 L1239.1,907.5 L1239.9,904.6 L1240.6,901.7 L1241.3,898.7 L1242.0,895.8 L1242.7,892.9 L1243.4,890.0 L1244.1,887.1 L1244.8,884.1 L1245.4,881.2 L1246.1,878.3 L1246.8,875.3 L1247.4,872.4 L1248.1,869.5 L1248.7,866.5 L1249.4,863.6 L1250.0,860.7 L1250.7,857.7 L1251.3,854.8 L1251.9,851.9 L1252.6,848.9 L1253.2,846.0 L1253.8,843.0 L1254.5,840.1 L1255.1,837.2 L1255.7,834.2 L1256.3,831.3 L1257.0,828.3 L1257.6,825.4 L1258.2,822.4 L1258.8,819.5 L1259.5,816.6 L1260.1,813.6 L1260.7,810.7 L1261.4,807.7 L1262.0,804.8 L1262.6,801.9 L1263.3,798.9 L1263.9,796.0 L1264.5,793.0 L1265.2,790.1 L1265.8,787.2 L1266.5,784.2 L1267.1,781.3 L1267.8,778.4 L1268.5,775.4 L1269.1,772.5 L1269.8,769.6 L1270.5,766.6 L1271.2,763.7 L1271.9,760.8 L1272.5,757.9 L1273.2,755.0 L1274.0,752.0 L1274.7,749.1 L1275.4,746.2 L1276.1,743.3 L1276.8,740.4 L1277.6,737.5 L1278.3,734.6 L1279.1,731.6 L1279.9,728.7 L1280.6,725.8 L1281.4,722.9 L1282.2,720.0 L1283.0,717.2 L1283.8,714.3 L1284.6,711.4 L1285.4,708.5 L1286.3,705.6 L1287.1,702.7 L1287.9,699.8 L1288.8,696.9 L1289.6,694.1 L1290.5,691.2 L1291.4,688.3 L1292.2,685.4 L1293.1,682.6 L1294.0,679.7 L1294.9,676.8 L1295.8,674.0 L1296.7,671.1 L1297.6,668.2 L1298.5,665.4 L1299.5,662.5 L1300.4,659.7 L1301.4,656.8 L1302.3,654.0 L1303.3,651.1 L1304.2,648.2 L1305.2,645.4 L1306.2,642.5 L1307.1,639.7 L1308.1,636.9 L1309.1,634.0 L1310.1,631.2 L1311.1,628.3 L1312.2,625.5 L1313.2,622.7 L1314.2,619.8 L1315.3,617.0 L1316.3,614.2 L1317.4,611.4 L1318.4,608.5 L1319.5,605.7 L1320.6,602.9 L1321.7,600.1 L1322.8,597.3 L1324.0,594.5 L1325.1,591.7 L1326.3,589.0 L1327.4,586.2 L1328.6,583.4 L1329.8,580.7 L1331.0,577.9 L1332.3,575.2 L1333.5,572.5 L1334.8,569.7 L1336.0,567.0 L1337.3,564.3 L1338.6,561.6 L1340.0,559.0 L1341.3,556.3 L1342.7,553.6 L1344.1,551.0 L1345.5,548.3 L1346.9,545.7 L1348.4,543.1 L1349.9,540.5 L1351.4,537.9 L1352.9,535.3 L1354.4,532.8 L1356.0,530.2 L1357.6,527.7 L1359.2,525.2 L1360.8,522.6 L1362.5,520.2 L1364.2,517.7 L1365.9,515.2 L1367.6,512.8 L1369.4,510.3 L1371.2,507.9 L1373.0,505.5 L1374.8,503.2 L1376.7,500.8 L1378.6,498.5 L1380.5,496.2 L1382.5,493.9 L1384.4,491.6 L1386.5,489.4 L1388.5,487.1 L1390.6,484.9 L1392.7,482.8 L1394.8,480.6 L1397.0,478.5 L1399.1,476.4 L1401.4,474.3 L1403.6,472.3 L1405.9,470.2 L1408.2,468.3 L1410.6,466.3 L1413.0,464.4 L1415.4,462.6 L1417.8,460.8 L1420.3,459.1 L1422.9,457.5 L1425.5,455.9 L1428.1,454.5 L1430.7,453.1 L1433.4,451.8 L1436.2,450.6 L1439.0,449.6 L1441.8,448.6 L1444.7,447.8 L1447.6,447.1 L1450.6,446.5 L1453.5,446.1 L1456.5,445.8 L1459.4,445.7 L1462.4,445.7 L1465.3,445.9 L1468.3,446.3 L1471.2,446.8 L1474.0,447.5 L1476.9,448.4 L1479.6,449.4 L1482.4,450.6 L1485.1,451.8 L1487.7,453.3 L1490.3,454.8 L1492.8,456.5 L1495.3,458.2 L1497.7,460.1 L1500.0,462.0 L1502.3,464.0 L1504.5,466.0 L1506.7,468.2 L1508.8,470.3 L1510.9,472.5 L1512.9,474.8 L1514.9,477.0 L1516.9,479.3 L1518.8,481.6 L1520.6,484.0 L1522.4,486.4 L1524.2,488.8 L1526.0,491.2 L1527.6,493.6 L1529.3,496.1 L1530.9,498.6 L1532.5,501.1 L1534.1,503.7 L1535.6,506.3 L1537.1,508.8 L1538.6,511.5 L1540.0,514.1 L1541.4,516.7 L1542.8,519.4 L1544.1,522.1 L1545.4,524.8 L1546.7,527.5 L1548.0,530.2 L1549.2,533.0 L1550.4,535.7 L1551.6,538.5 L1552.8,541.3 L1553.9,544.1 L1555.0,546.9 L1556.2,549.7 L1557.2,552.5 L1558.3,555.3 L1559.4,558.2 L1560.4,561.0 L1561.5,563.9 L1562.5,566.7 L1563.5,569.6 L1564.5,572.4 L1565.4,575.3 L1566.4,578.2 L1567.4,581.0 L1568.3,583.9 L1569.3,586.8 L1570.2,589.7 L1571.1,592.5 L1572.1,595.4 L1573.0,598.3 L1573.9,601.1 L1574.8,604.0 L1575.7,606.9 L1576.6,609.7 L1577.6,612.6 L1578.5,615.4 L1579.4,618.3 L1580.3,621.1 L1581.2,624.0 L1582.1,626.9 L1583.0,629.7 L1583.8,632.6 L1584.7,635.4 L1585.6,638.3 L1586.5,641.1 L1587.4,644.0 L1588.3,646.8 L1589.2,649.7 L1590.1,652.5 L1591.0,655.4 L1591.9,658.2 L1592.8,661.1 L1593.7,663.9 L1594.6,666.8 L1595.5,669.6 L1596.4,672.5 L1597.4,675.3 L1598.3,678.2 L1599.2,681.0 L1600.1,683.9 L1601.1,686.7 L1602.0,689.6 L1602.9,692.5 L1603.9,695.3 L1604.9,698.2 L1605.8,701.0 L1606.8,703.9 L1607.8,706.8 L1608.7,709.6 L1609.7,712.5 L1610.7,715.4 L1611.7,718.2 L1612.8,721.0 L1618.6,721.0 L1630.2,718.5 L1635.9,713.9 L1636.2,710.7 L1637.1,707.9 L1637.9,705.0 L1638.7,702.1 L1639.5,699.2 L1640.3,696.3 L1641.1,693.5 L1641.9,690.6 L1642.7,687.7 L1643.5,684.8 L1644.3,681.9 L1645.0,679.0 L1645.8,676.1 L1646.6,673.2 L1647.3,670.3 L1648.1,667.4 L1648.8,664.5 L1649.5,661.6 L1650.3,658.7 L1651.0,655.7 L1651.7,652.8 L1652.4,649.9 L1653.2,647.0 L1653.9,644.1 L1654.6,641.1 L1655.3,638.2 L1656.0,635.3 L1656.7,632.4 L1657.4,629.4 L1658.1,626.5 L1658.8,623.6 L1659.4,620.6 L1660.1,617.7 L1660.8,614.8 L1661.5,611.8 L1662.2,608.9 L1662.9,605.9 L1663.5,603.0 L1664.2,600.1 L1664.9,597.1 L1665.5,594.2 L1666.2,591.2 L1666.9,588.3 L1667.5,585.4 L1668.2,582.4 L1668.9,579.5 L1669.5,576.5 L1670.2,573.6 L1670.9,570.6 L1671.5,567.7 L1672.2,564.7 L1672.9,561.8 L1673.5,558.9 L1674.2,555.9 L1674.9,553.0 L1675.6,550.0 L1676.2,547.1 L1676.9,544.1 L1677.6,541.2 L1678.3,538.3 L1678.9,535.3 L1679.6,532.4 L1680.3,529.4 L1681.0,526.5 L1681.7,523.5 L1682.4,520.6 L1683.0,517.7 L1683.7,514.7 L1684.4,511.8 L1685.1,508.9 L1685.8,505.9 L1686.6,503.0 L1687.3,500.1 L1688.0,497.1 L1688.7,494.2 L1689.4,491.3 L1690.2,488.3 L1690.9,485.4 L1691.6,482.5 L1692.4,479.6 L1693.1,476.7 L1693.9,473.7 L1694.6,470.8 L1695.4,467.9 L1696.2,465.0 L1696.9,462.1 L1697.7,459.2 L1698.5,456.3 L1699.3,453.4 L1700.1,450.5 L1700.9,447.6 L1701.7,444.7 L1702.5,441.8 L1703.3,438.9 L1704.2,436.0 L1705.0,433.1 L1705.9,430.2 L1706.7,427.3 L1707.6,424.5 L1708.4,421.6 L1709.3,418.7 L1710.2,415.8 L1711.1,413.0 L1712.0,410.1 L1712.9,407.2 L1713.8,404.4 L1714.8,401.5 L1715.7,398.7 L1716.6,395.8 L1717.6,393.0 L1718.6,390.1 L1719.5,387.3 L1720.5,384.5 L1721.5,381.6 L1722.5,378.8 L1723.5,376.0 L1724.6,373.2 L1725.6,370.4 L1726.7,367.6 L1727.7,364.7 L1728.8,361.9 L1729.9,359.1 L1731.0,356.3 L1732.1,353.6 L1733.2,350.8 L1734.3,348.0 L1735.4,345.2 L1736.6,342.4 L1737.7,339.7 L1738.9,336.9 L1740.1,334.1 L1741.3,331.4 L1742.5,328.6 L1743.8,325.9 L1745.0,323.2 L1746.2,320.4 L1747.5,317.7 L1748.8,315.0 L1750.1,312.3 L1751.4,309.5 L1752.7,306.8 L1754.1,304.1 L1755.4,301.4 L1756.8,298.7 L1758.1,296.0 L1759.5,293.4 L1761.0,290.7 L1762.4,288.0 L1763.8,285.4 L1765.3,282.7 L1766.7,280.0 L1768.2,277.4 L1769.7,274.8 L1771.3,272.1 L1772.8,269.5 L1774.3,266.9 L1776.0,264.5" stroke="#f00" stroke-width="5.8"/>
</g>
<rect x="838.2" y="396.1" width="2.8" height="3.5" fill="#00f"/><rect x="1320.5" y="396.3" width="5.5" height="3" fill="#00f"/>
<path d="M1075.8,197.6 H1213.1" stroke="#f00" stroke-width="5.8"/>
<path d="M1075.8,270.2 H1100.9 M1131.8,270.2 H1157 M1185.1,270.2 H1213.1" stroke="#00f" stroke-width="5.8"/>
<text transform="translate(166,50.3) scale(0.966,1)" text-anchor="end" font-size="51">0</text>
<text transform="translate(166,231.9) scale(0.966,1)" text-anchor="end" font-size="51">-5</text>
<text transform="translate(166,413.5) scale(0.966,1)" text-anchor="end" font-size="51">-10</text>
<text transform="translate(166,595.1) scale(0.966,1)" text-anchor="end" font-size="51">-15</text>
<text transform="translate(166,776.7) scale(0.966,1)" text-anchor="end" font-size="51">-20</text>
<text transform="translate(166,958.3) scale(0.966,1)" text-anchor="end" font-size="51">-25</text>
<text transform="translate(166,1139.9) scale(0.966,1)" text-anchor="end" font-size="51">-30</text>
<text transform="translate(362.3,1275) scale(0.966,1)" text-anchor="middle" font-size="51">2</text>
<text transform="translate(674.8,1275) scale(0.966,1)" text-anchor="middle" font-size="51">3</text>
<text transform="translate(987.2,1275) scale(0.966,1)" text-anchor="middle" font-size="51">4</text>
<text transform="translate(1299.6,1275) scale(0.966,1)" text-anchor="middle" font-size="51">5</text>
<text transform="translate(1612.1,1275) scale(0.966,1)" text-anchor="middle" font-size="51">6</text>
<text transform="translate(987,1368.9) scale(0.942,1)" text-anchor="middle" font-size="64">Frequency (GHz)</text>
<text transform="translate(55.4,656.3) rotate(-90) scale(0.937,1)" text-anchor="middle" font-size="65.4">S11 (dB)</text>
<text transform="translate(1226.8,216.6) scale(0.9375,1)" font-size="64">Proposed BRA</text>
<text transform="translate(1226.8,289.4) scale(0.9375,1)" font-size="64">Equivalent circuit</text>
</svg>
</body></html>
